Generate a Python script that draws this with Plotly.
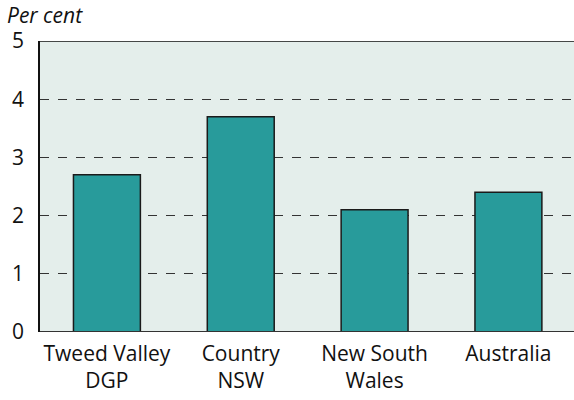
import plotly.graph_objects as go

categories = ["Tweed Valley<br>DGP", "Country<br>NSW", "New South<br>Wales", "Australia"]
values = [2.7, 3.7, 2.1, 2.4]
y_ticks = [0, 1, 2, 3, 4, 5]

font_family = "'Open Sans', 'Noto Sans', sans-serif"

fig = go.Figure()
fig.add_trace(go.Bar(
    x=list(range(len(categories))),
    y=values,
    marker=dict(color="#289b9b", line=dict(color="#1a1a1a", width=1.5)),
    width=0.5,
))

fig.update_layout(
    template="none",
    width=574, height=400,
    margin=dict(l=40, r=0, t=41, b=68, autoexpand=False),
    paper_bgcolor="white",
    plot_bgcolor="#e4eeeb",
    showlegend=False,
    font=dict(family=font_family, size=21, color="#111111"),
    xaxis=dict(
        tickmode="array",
        tickvals=list(range(len(categories))),
        ticktext=categories,
        range=[-0.5, 3.49],
        showgrid=False,
        zeroline=False,
        showline=False,
        ticks="",
        automargin=False,
        tickfont=dict(size=21),
        ticklabelstandoff=7,
    ),
    yaxis=dict(
        range=[0, 5],
        tickvals=y_ticks,
        showgrid=True,
        gridcolor="#333333",
        griddash="dash",
        gridwidth=1,
        zeroline=False,
        showline=True,
        linecolor="#111111",
        linewidth=1.5,
        ticks="",
        automargin=False,
        tickfont=dict(size=21),
        ticklabelstandoff=10,
    ),
    annotations=[dict(
        text="<i>Per cent</i>", xref="paper", yref="paper",
        x=-0.066, y=1.036, xanchor="left", yanchor="bottom",
        showarrow=False, font=dict(size=21, family=font_family),
    )],
    shapes=[
        dict(type="line", xref="paper", yref="y", x0=0, x1=1, y0=5, y1=5,
             line=dict(color="#111111", width=1.5)),
        dict(type="line", xref="paper", yref="y", x0=0, x1=1, y0=0, y1=0,
             line=dict(color="#333333", width=2)),
    ],
)

fig.write_html(
    "out.html",
    config={"displayModeBar": False},
    post_script="document.body.style.margin='0';document.body.style.overflow='hidden';",
)
